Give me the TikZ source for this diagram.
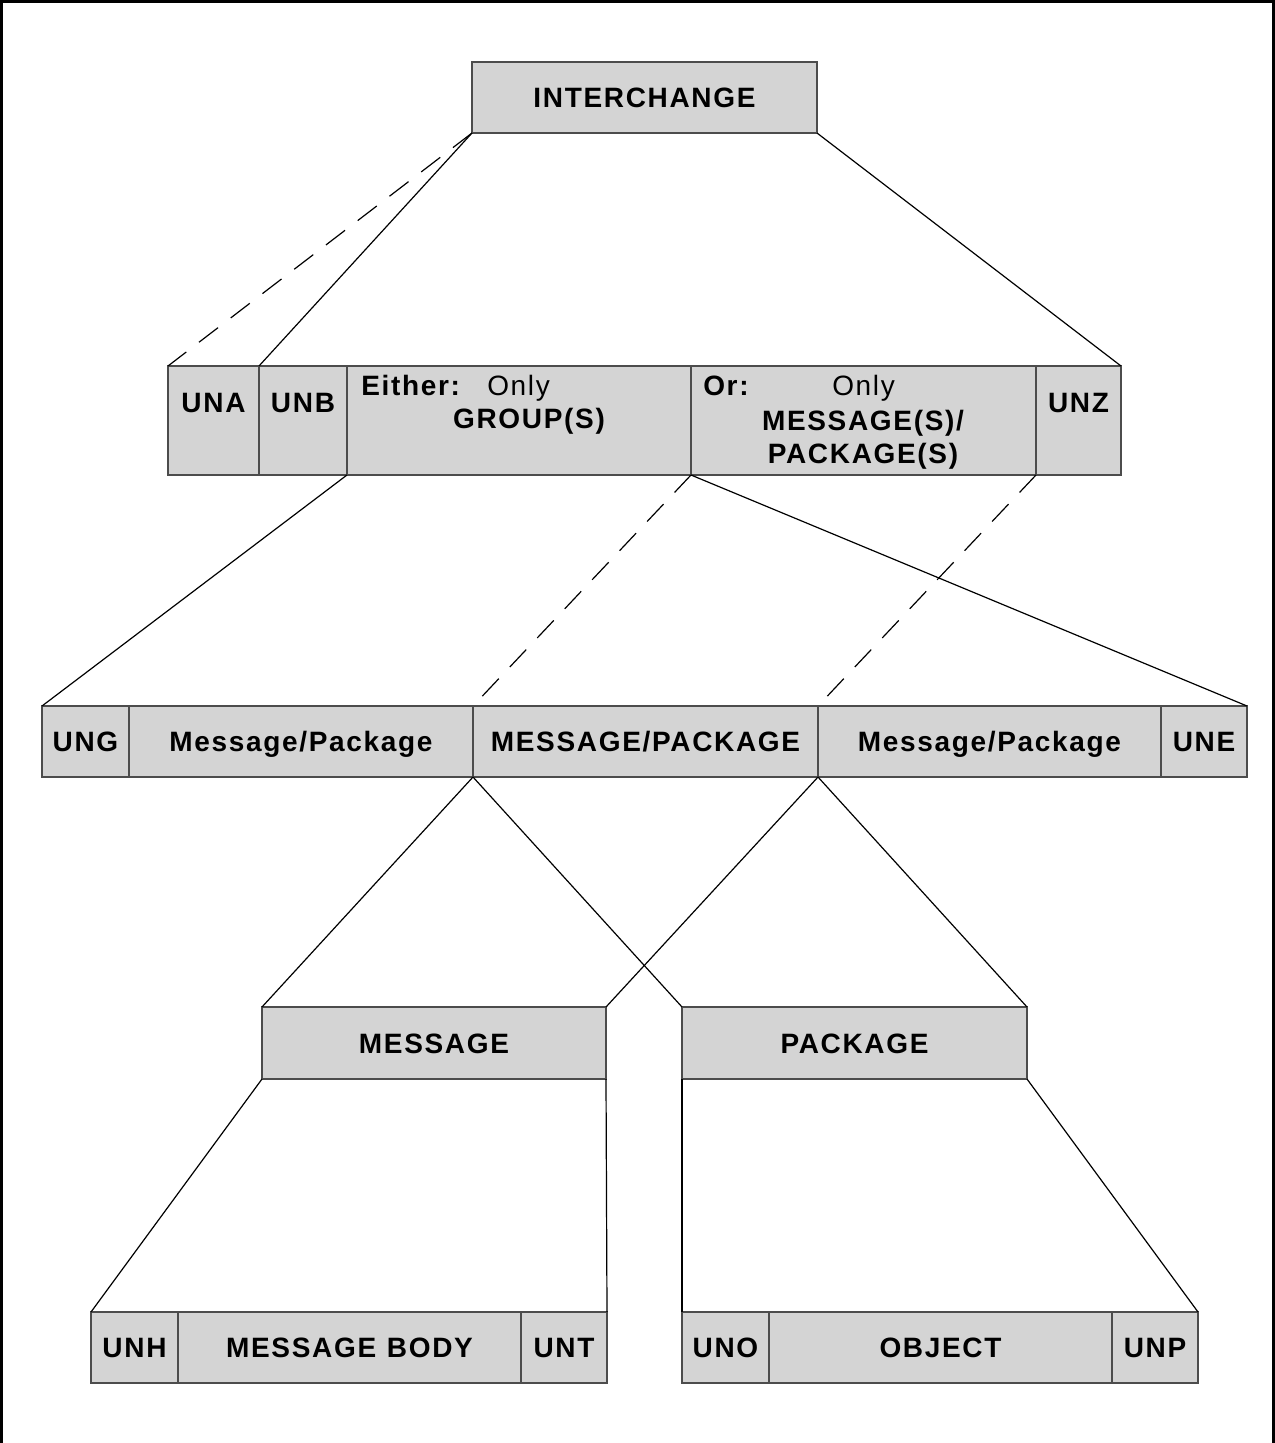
\documentclass[tikz,border=0pt]{standalone}
\usepackage{fontspec}
\setmainfont{Liberation Sans}[LetterSpace=6]
\usetikzlibrary{positioning}
\definecolor{cellgray}{RGB}{212,212,212}
\newcommand{\px}{0.75pt}
\begin{document}
\begin{tikzpicture}[x=0.75pt,y=-0.75pt,
    cell/.style={draw=black!70,fill=cellgray,line width=1.5*\px,inner sep=0pt,outer sep=0pt,
      minimum height=71*\px,text height=20*\px,text depth=0pt,
      font=\fontsize{21}{25}\selectfont\bfseries},
    tall/.style={minimum height=109*\px},
    txt/.style={inner sep=0pt,font=\fontsize{21}{25}\selectfont\bfseries},
    plain/.style={inner sep=0pt,font=\fontsize{21}{25}\selectfont},
    link/.style={line width=1.2*\px},
    dashlink/.style={link,dash pattern=on 18pt off 12pt}]
  \useasboundingbox (0,0) rectangle (1275,1443);
  \draw[line width=3*\px] (1.5,1443) |- (1273.5,1.5) -- (1273.5,1443);

  \node[cell,anchor=north west,minimum width=345*\px] (interchange) at (472,62) {INTERCHANGE};

  \node[cell,tall,anchor=north west,minimum width=91*\px] (una) at (168,366) {};
  \node[cell,tall,minimum width=88*\px,right=0pt of una]     (unb)    {};
  \node[cell,tall,minimum width=344*\px,right=0pt of unb]    (either) {};
  \node[cell,tall,minimum width=345*\px,right=0pt of either] (or)     {};
  \node[cell,tall,minimum width=85*\px,right=0pt of or]      (unz)    {};
  \node[txt,anchor=base] at ([yshift=-46*\px]una.north) {UNA};
  \node[txt,anchor=base] at ([yshift=-46*\px]unb.north) {UNB};
  \node[txt,anchor=base] at ([yshift=-46*\px]unz.north) {UNZ};
  \node[txt,anchor=base west]   at ([xshift=14*\px,yshift=-29*\px]either.north west) {Either:};
  \node[plain,anchor=base west] at ([xshift=140*\px,yshift=-29*\px]either.north west) {Only};
  \node[txt,anchor=base]        at ([xshift=182*\px,yshift=-62*\px]either.north west) {GROUP(S)};
  \node[txt,anchor=base west]   at ([xshift=12*\px,yshift=-29*\px]or.north west) {Or:};
  \node[plain,anchor=base west] at ([xshift=141*\px,yshift=-29*\px]or.north west) {Only};
  \node[txt,anchor=base]        at ([xshift=172*\px,yshift=-64*\px]or.north west) {MESSAGE(S)/};
  \node[txt,anchor=base]        at ([xshift=172*\px,yshift=-97*\px]or.north west) {PACKAGE(S)};

  \node[cell,anchor=north west,minimum width=87*\px] (ung) at (42,706) {UNG};
  \node[cell,minimum width=344*\px,right=0pt of ung]  (mpleft)  {Message/Package};
  \node[cell,minimum width=345*\px,right=0pt of mpleft] (mp)    {MESSAGE/PACKAGE};
  \node[cell,minimum width=343*\px,right=0pt of mp]   (mpright) {Message/Package};
  \node[cell,minimum width=86*\px,right=0pt of mpright] (une)   {UNE};

  \node[cell,anchor=north west,minimum width=344*\px,minimum height=72*\px] (message) at (262,1007) {MESSAGE};
  \node[cell,anchor=north west,minimum width=345*\px,minimum height=72*\px] (package) at (682,1007) {PACKAGE};

  \node[cell,anchor=north west,minimum width=87*\px] (unh) at (91,1312) {UNH};
  \node[cell,minimum width=343*\px,right=0pt of unh]  (body) {MESSAGE\hspace{8pt}BODY};
  \node[cell,minimum width=86*\px,right=0pt of body]  (unt)  {UNT};
  \node[cell,anchor=north west,minimum width=87*\px] (uno) at (682,1312) {UNO};
  \node[cell,minimum width=343*\px,right=0pt of uno]  (object) {OBJECT};
  \node[cell,minimum width=86*\px,right=0pt of object] (unp)   {UNP};

  \draw[dashlink] (interchange.south west) -- (una.north west);
  \draw[link] (interchange.south west) -- (unb.north west);
  \draw[link] (interchange.south east) -- (unz.north east);
  \draw[link] (either.south west) -- (ung.north west);
  \draw[dashlink] (or.south west) -- (mp.north west);
  \draw[link] (or.south west) -- (une.north east);
  \draw[dashlink] (unz.south west) -- (mp.north east);
  \draw[link] (mp.south west) -- (message.north west);
  \draw[link] (mp.south west) -- (package.north west);
  \draw[link] (mp.south east) -- (message.north east);
  \draw[link] (mp.south east) -- (package.north east);
  \draw[link] (message.south west) -- (unh.north west);
  \draw[link] (message.south east) -- (unt.north east);
  \draw[link] (package.south west) -- (uno.north west);
  \draw[link] (package.south east) -- (unp.north east);
\end{tikzpicture}
\end{document}
